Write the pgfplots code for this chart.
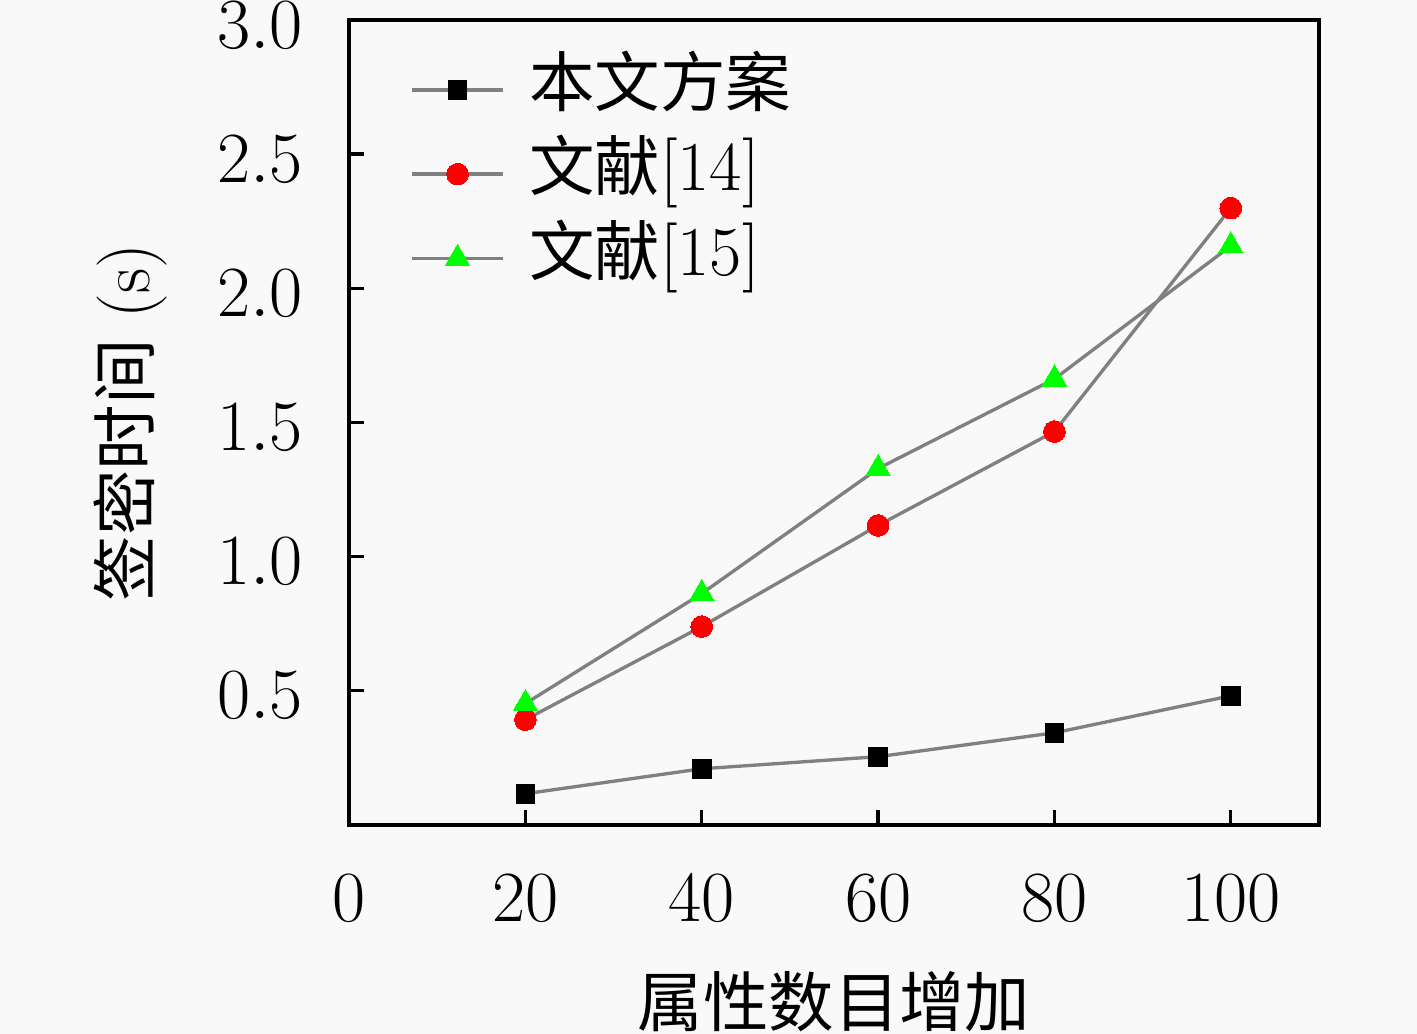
\documentclass[border=0pt]{standalone}
\usepackage{pgfplots}
\pgfplotsset{compat=1.18}
\usepackage{fontspec}
\newfontfamily\cjk{Noto Sans CJK SC}
\definecolor{bg}{RGB}{249,249,249}
\definecolor{ln}{RGB}{128,128,128}
\begin{document}
\fontsize{16.8}{20}\selectfont
\begin{tikzpicture}
\fill[bg, use as bounding box] (-83.7pt,-50.1pt) rectangle (256.1pt,197.8pt);
\begin{axis}[
  name=ax, at={(0,0)}, anchor=south west,
  scale only axis,
  width=232.6pt, height=193pt,
  xmin=0, xmax=110, ymin=0, ymax=3.0,
  xtick={0,20,40,60,80,100},
  ytick={0.5,1.0,1.5,2.0,2.5,3.0},
  tick label style={font=\fontsize{16.8}{20}\selectfont},
  yticklabel style={/pgf/number format/fixed,/pgf/number format/fixed zerofill,/pgf/number format/precision=1, xshift=-5.3pt, yshift=-1.2pt},
  xticklabel style={yshift=-6.3pt},
  tick align=inside,
  xtick pos=bottom, ytick pos=left,
  major tick length=3.5pt,
  tick style={black, line width=0.8pt},
  axis line style={line width=0.9pt},
  xlabel={\cjk\fontsize{15.7}{18}\selectfont 属性数目增加},
  xlabel style={at={(axis description cs:0.5,0)}, anchor=center, yshift=-42.5pt},
  ylabel={{\cjk\fontsize{15.7}{18}\selectfont 签密时间} (s)},
  ylabel style={at={(axis description cs:-0.2257,0.5)}, anchor=center},
  legend style={at={(axis description cs:0.0628,0.966)}, anchor=north west, draw=none, fill=none, inner sep=0pt,
    nodes={text height=12pt, text depth=4pt, inner sep=2pt}, row sep=0.2pt, column sep=4pt},
  legend cell align=left,
  legend image code/.code={\draw[mark repeat=2,mark phase=2,#1] plot coordinates {(0cm,0cm) (0.38cm,0cm) (0.76cm,0cm)};},
  every axis plot/.append style={line width=0.8pt, color=ln},
]
\addplot[mark=square*, mark size=2.25pt, mark options={fill=black, draw=black, line width=0pt}] coordinates {
(20,0.116) (40,0.209) (60,0.254) (80,0.343) (100,0.481)};
\addlegendentry{\cjk\fontsize{15.7}{18}\selectfont 本文方案}
\addplot[mark=*, mark size=2.6pt, mark options={fill=red, draw=red, line width=0pt}] coordinates {
(20,0.392) (40,0.739) (60,1.116) (80,1.466) (100,2.299)};
\addlegendentry{{\cjk\fontsize{15.7}{18}\selectfont 文献}[14]}
\addplot[mark=triangle*, mark size=3.4pt, mark options={fill=green, draw=green, line width=0pt}] coordinates {
(20,0.452) (40,0.862) (60,1.328) (80,1.662) (100,2.158)};
\addlegendentry{{\cjk\fontsize{15.7}{18}\selectfont 文献}[15]}
\end{axis}
\end{tikzpicture}
\end{document}
